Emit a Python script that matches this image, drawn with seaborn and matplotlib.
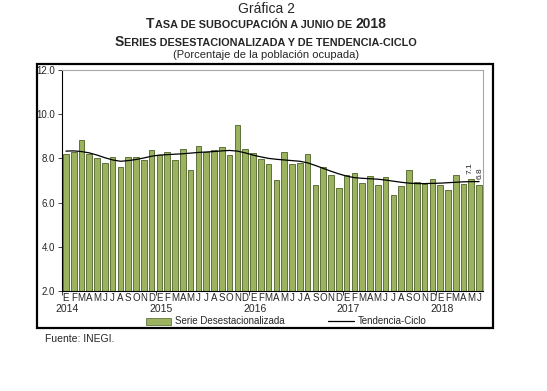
import pandas as pd
import matplotlib
matplotlib.use('Agg')
import matplotlib.pyplot as plt
import seaborn as sns
from matplotlib.patches import Patch, Rectangle
from matplotlib.lines import Line2D

# Data (Jan 2014 - Jun 2018)
months = ['E', 'F', 'M', 'A', 'M', 'J', 'J', 'A', 'S', 'O', 'N', 'D']
years = ['2014', '2015', '2016', '2017', '2018']

serie = [8.20, 8.30, 8.81, 8.19, 8.03, 7.81, 8.07, 7.63, 8.07, 8.06, 7.94, 8.40,
         8.16, 8.30, 7.94, 8.44, 7.49, 8.58, 8.27, 8.37, 8.52, 8.15, 9.52, 8.42,
         8.24, 7.98, 7.74, 7.02, 8.28, 7.75, 7.80, 8.19, 6.79, 7.60, 7.23, 6.65,
         7.23, 7.34, 6.88, 7.19, 6.79, 7.15, 6.33, 6.74, 7.46, 6.91, 6.85, 7.05,
         6.78, 6.59, 7.23, 6.82, 7.06, 6.80]

tendencia = [8.33, 8.34, 8.31, 8.25, 8.15, 8.03, 7.93, 7.87, 7.90, 7.95, 8.02, 8.10,
             8.15, 8.17, 8.19, 8.21, 8.24, 8.27, 8.29, 8.31, 8.34, 8.36, 8.33, 8.25,
             8.15, 8.07, 8.00, 7.96, 7.93, 7.90, 7.87, 7.80, 7.68, 7.55, 7.42, 7.30,
             7.20, 7.13, 7.10, 7.08, 7.06, 7.02, 6.97, 6.92, 6.88, 6.86, 6.86, 6.87,
             6.88, 6.90, 6.92, 6.94, 6.95, 6.95]

labeled = [52, 53]  # bars with value labels

mes_labels = [months[i % 12] for i in range(len(serie))]
df = pd.DataFrame({'pos': range(len(serie)), 'serie': serie, 'tendencia': tendencia})

bar_color = '#9bb35f'
edge_color = '#4e6127'

sns.set_style('ticks')
plt.rcParams['font.family'] = ['Liberation Sans', 'DejaVu Sans']

W, H = 547, 391
fig = plt.figure(figsize=(W / 100, H / 100), dpi=100)
ax = fig.add_axes([62 / W, 100 / H, 421 / W, 221 / H])

sns.barplot(data=df, x='pos', y='serie', color=bar_color, edgecolor=edge_color,
            linewidth=0.6, width=0.72, saturation=1, ax=ax)
sns.lineplot(data=df, x='pos', y='tendencia', color='black', linewidth=0.9, ax=ax)

ax.set_xlim(-0.5, len(serie) - 0.5)
ax.set_ylim(2, 12)
yt = [2, 4, 6, 8, 10, 12]
ax.set_yticks(yt)
ax.set_yticklabels([f'{v:.1f}' for v in yt])
ax.set_xticks(range(len(serie)))
ax.set_xticklabels(mes_labels)
ax.set_xticks([12 * k - 0.5 for k in range(len(years))], minor=True)
ax.set_xlabel('')
ax.set_ylabel('')
ax.tick_params(axis='y', labelsize=7, length=3, width=0.6, pad=2)
ax.tick_params(axis='x', which='major', labelsize=7, length=0, pad=1.5)
ax.tick_params(axis='x', which='minor', length=3, width=0.6, direction='out')

for s in ['left', 'bottom']:
    ax.spines[s].set_color('black')
    ax.spines[s].set_linewidth(0.8)
for s in ['top', 'right']:
    ax.spines[s].set_visible(True)
    ax.spines[s].set_color('#a6a6a6')
    ax.spines[s].set_linewidth(0.8)

for k, y in enumerate(years):
    ax.annotate(y, xy=(12 * k + 0.2, 0), xycoords=('data', 'axes fraction'),
                xytext=(0, -13), textcoords='offset points',
                ha='center', va='center', fontsize=7.5)

for i, dx in zip(labeled, [-1, 1]):
    ax.annotate(f'{serie[i]:.1f}', xy=(i, serie[i]), xytext=(dx, 4),
                textcoords='offset points', rotation=90, ha='center',
                va='bottom', fontsize=6)

# legend
handles = [Patch(facecolor=bar_color, edgecolor=edge_color, linewidth=0.5),
           Line2D([], [], color='black', linewidth=0.9)]
fig.legend(handles, ['Serie Desestacionalizada', 'Tendencia-Ciclo'],
           loc='center', bbox_to_anchor=(286 / W, 1 - 321.5 / H), ncol=2,
           frameon=False, fontsize=7, handlelength=2.6, handleheight=0.7,
           handletextpad=0.4, columnspacing=4.5)

# outer frame
fig.patches.append(Rectangle((36.7 / W, (H - 327.7) / H), 456 / W, 264 / H,
                             transform=fig.transFigure, fill=False,
                             edgecolor='black', linewidth=1.6))

# titles
cx = 266
fig.text(cx / W, 1 - 9 / H, 'Gráfica 2', ha='center', va='center', fontsize=10)


def small_caps(y_px, parts):
    r = fig.canvas.get_renderer()
    items = []
    for s, fs, gap in parts:
        t = fig.text(0, 1 - y_px / H, s, fontsize=fs, fontweight='bold',
                     va='baseline', ha='left')
        items.append((t, t.get_window_extent(r).width, gap))
    total = sum(w + g for _, w, g in items)
    x = cx - total / 2
    for t, w, g in items:
        t.set_x(x / W)
        x += w + g


small_caps(28.5, [('T', 10, 0.5), ('ASA DE SUBOCUPACIÓN A JUNIO DE', 7.8, 3),
                  ('2018', 10, 0)])
small_caps(45.5, [('S', 10, 0.5),
                  ('ERIES DESESTACIONALIZADA Y DE TENDENCIA-CICLO', 7.8, 0)])
fig.text(cx / W, 1 - 54.5 / H, '(Porcentaje de la población ocupada)',
         ha='center', va='center', fontsize=8)

fig.text(45 / W, 1 - 339 / H, 'Fuente: INEGI.', ha='left', va='center', fontsize=7.5)

fig.savefig('out.png', dpi=100)
